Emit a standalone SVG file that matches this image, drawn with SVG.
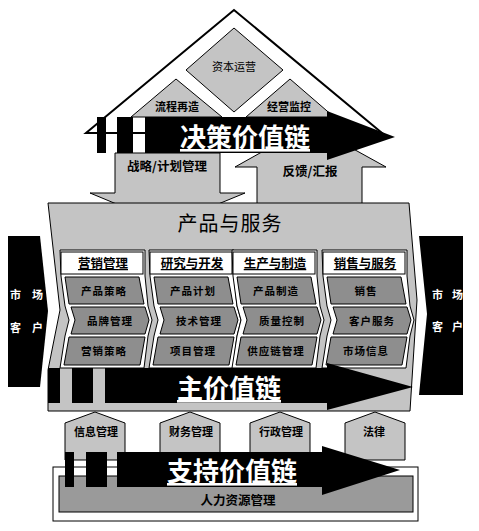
<svg xmlns="http://www.w3.org/2000/svg" width="479" height="531" viewBox="0 0 479 531">
<defs>
<style>
.lg{fill:#c4c4c4;stroke:#000;stroke-width:1}
.pc{fill:#8e8e8e;stroke:#000;stroke-width:1}
.wf{fill:#fff;stroke:#000;stroke-width:1}
.t{font-family:"Noto Sans CJK SC","Liberation Sans",sans-serif;text-anchor:middle;fill:#000}
.big{font-size:26px;fill:#fff;font-weight:bold;text-decoration:underline}
.pt{font-size:10.5px;font-weight:bold;letter-spacing:1px}
.hd{font-size:12.5px;font-weight:bold;text-decoration:underline}
.mk{font-size:11px;font-weight:bold;fill:#fff;text-anchor:start}
.sm{font-size:11px;font-weight:bold}
</style>
<g id="col">
<polygon class="wf" points="-2,250 83,250 83,276 86,306 90,320 86,336 82,368 -2,368 3,336 7,320 3,306 -1,276"/>
<rect class="wf" x="-1" y="252" width="82" height="22"/>
<polygon class="pc" points="3,277 77,277 82,304 7,304"/>
<polygon class="pc" points="9,307 83,307 87,320 83,334 9,334 13,320"/>
<polygon class="pc" points="7,337 83,337 78,365 2,365"/>
</g>
</defs>
<rect width="479" height="531" fill="#fff"/>
<g id="roof">
<polygon points="234,10 86,133 382,133" fill="#fff" stroke="#000" stroke-width="2"/>
</g>
<g id="capital">
<polygon class="lg" points="234,28 283,70 234,112 186,70"/>
<text class="t" x="234" y="71" font-size="11">资本运营</text>
</g>
<g id="process">
<polygon class="lg" points="176,79 222,117 131,117"/>
<text class="t sm" x="177" y="111">流程再造</text>
</g>
<g id="monitor">
<polygon class="lg" points="290,79 334,117 246,117"/>
<text class="t sm" x="289" y="111">经营监控</text>
</g>
<g id="connectors">
<polygon class="lg" points="115,153 220,153 220,193 245,193 167,225 90,193 115,193"/>
<polygon class="lg" points="257,205 257,167 235,167 310,125 386,167 362,167 362,205"/>
</g>
<g id="strategy-label"><text class="t" x="167" y="171" font-size="12.5" font-weight="bold">战略/计划管理</text></g>
<g id="feedback-label"><text class="t" x="310" y="176" font-size="12.5" font-weight="bold">反馈/汇报</text></g>
<g id="decision-chain">
<rect x="97" y="117" width="9" height="36" fill="#000"/>
<rect x="117" y="117" width="16" height="36" fill="#000"/>
<polygon fill="#000" points="145,117 327,117 327,111 395,137 327,160 327,153 145,153"/>
<text class="t big" x="245" y="147">决策价值链</text>
</g>
<g id="market-left">
<polygon fill="#000" points="8,236 40,236 48,311 40,387 8,387"/>
<text class="t mk" x="10" y="299" letter-spacing="11">市场</text>
<text class="t mk" x="10" y="332" letter-spacing="11">客户</text>
</g>
<g id="market-right">
<polygon fill="#000" points="419,236 463,236 463,395 419,395 427,314"/>
<text class="t mk" x="432" y="299" letter-spacing="9">市场</text>
<text class="t mk" x="432" y="331" letter-spacing="9">客户</text>
</g>
<g id="products">
<polygon class="lg" stroke-width="2" points="48,203 409,203 417,300 410,411 48,411 48,370 60,310"/>
<text class="t" x="230" y="231" font-size="20" letter-spacing="1">产品与服务</text>
</g>
<g id="marketing">
<use href="#col" x="62"/>
<text class="t hd" x="103" y="268">营销管理</text>
<text class="t pt" x="104" y="295">产品策略</text>
<text class="t pt" x="110" y="325">品牌管理</text>
<text class="t pt" x="104" y="355">营销策略</text>
</g>
<g id="rnd">
<use href="#col" x="151"/>
<text class="t hd" x="192" y="268">研究与开发</text>
<text class="t pt" x="193" y="295">产品计划</text>
<text class="t pt" x="199" y="325">技术管理</text>
<text class="t pt" x="193" y="355">项目管理</text>
</g>
<g id="production">
<use href="#col" x="234"/>
<text class="t hd" x="275" y="268">生产与制造</text>
<text class="t pt" x="276" y="295">产品制造</text>
<text class="t pt" x="282" y="325">质量控制</text>
<text class="t pt" x="276" y="355">供应链管理</text>
</g>
<g id="sales">
<use href="#col" x="324"/>
<text class="t hd" x="365" y="268">销售与服务</text>
<text class="t pt" x="366" y="295">销售</text>
<text class="t pt" x="372" y="325">客户服务</text>
<text class="t pt" x="366" y="355">市场信息</text>
</g>
<g id="main-chain">
<rect x="48" y="368" width="12" height="35" fill="#000"/>
<rect x="72" y="368" width="21" height="35" fill="#000"/>
<polygon fill="#000" points="105,368 327,368 327,363 413,387 327,410 327,403 105,403"/>
<text class="t big" x="229" y="398">主价值链</text>
</g>
<g id="info"><polygon class="lg" points="65,460 65,423 95,412 125,423 125,460"/><text class="t sm" x="96" y="436">信息管理</text></g>
<g id="finance"><polygon class="lg" points="160,460 160,423 190,412 220,423 220,460"/><text class="t sm" x="191" y="436">财务管理</text></g>
<g id="admin"><polygon class="lg" points="250,460 250,423 280,412 310,423 310,460"/><text class="t sm" x="281" y="436">行政管理</text></g>
<g id="legal"><polygon class="lg" points="345,460 345,423 375,412 405,423 405,460"/><text class="t sm" x="374" y="436">法律</text></g>
<g id="hr">
<rect class="wf" x="53" y="467" width="365" height="54"/>
<rect x="59" y="476" width="354" height="36" fill="#9a9a9a" stroke="#000"/>
<text class="t" x="238" y="505" font-size="12.5" font-weight="bold">人力资源管理</text>
</g>
<g id="support-chain">
<rect x="65" y="452" width="9" height="35" fill="#000"/>
<rect x="86" y="452" width="21" height="35" fill="#000"/>
<polygon fill="#000" points="117,452 322,452 322,446 400,470 322,495 322,487 117,487"/>
<text class="t big" x="232" y="481">支持价值链</text>
</g>
</svg>
